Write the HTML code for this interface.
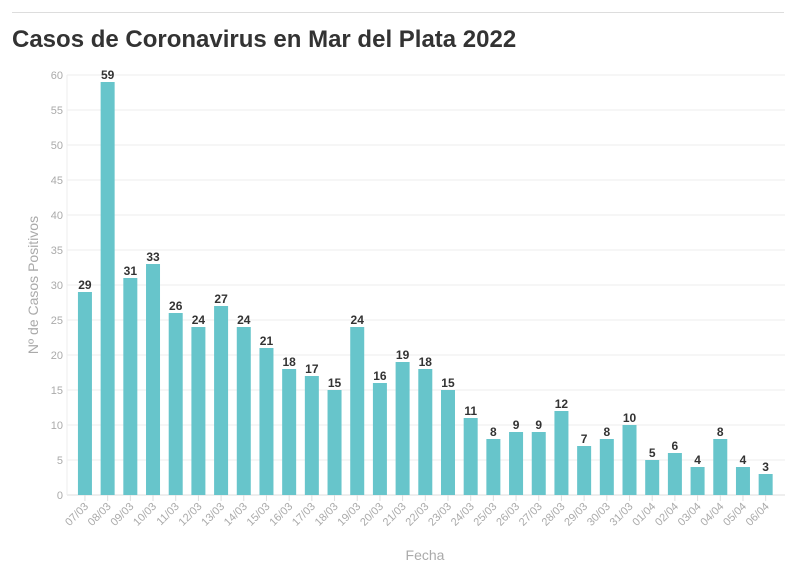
<!DOCTYPE html>
<html><head><meta charset="utf-8"><style>
body{margin:0;background:#fff;font-family:"Liberation Sans",sans-serif;}
svg text{font-family:"Liberation Sans",sans-serif;}
</style></head><body>
<svg width="796" height="575">
<line x1="12" y1="12.5" x2="784" y2="12.5" stroke="#ddd"/>
<text x="12" y="47" font-size="24" font-weight="bold" fill="#333">Casos de Coronavirus en Mar del Plata 2022</text>
<g id="grid"></g><g id="bars"></g><g id="xax"></g>
<text x="425" y="560" font-size="14" fill="#aaa" text-anchor="middle">Fecha</text>
<text transform="translate(38,285) rotate(-90)" font-size="14" fill="#aaa" text-anchor="middle">Nº de Casos Positivos</text>
</svg>
<script>
const categories=["07/03","08/03","09/03","10/03","11/03","12/03","13/03","14/03","15/03","16/03","17/03","18/03","19/03","20/03","21/03","22/03","23/03","24/03","25/03","26/03","27/03","28/03","29/03","30/03","31/03","01/04","02/04","03/04","04/04","05/04","06/04"];
const values=[29,59,31,33,26,24,27,24,21,18,17,15,24,16,19,18,15,11,8,9,9,12,7,8,10,5,6,4,8,4,3];
const yTicks=[0,5,10,15,20,25,30,35,40,45,50,55,60];
const NS="http://www.w3.org/2000/svg";
const y0=495,yTop=75,yMax=60,xL=73.6,xR=777;
const step=(xR-xL)/categories.length,bw=14;
const y=v=>y0-(v/yMax)*(y0-yTop);
const x=i=>xL+step*(i+0.5);
function mk(t,a,p){const e=document.createElementNS(NS,t);for(const k in a)e.setAttribute(k,a[k]);p.appendChild(e);return e;}
const g=document.getElementById('grid'),b=document.getElementById('bars'),xa=document.getElementById('xax');
yTicks.forEach(v=>{
 const l=mk('line',{x1:67,x2:785,y1:y(v),y2:y(v),stroke:v===0?'#ddd':'#eee'},g);
 
 
 const t=mk('text',{x:63,y:y(v)+4,'font-size':11,fill:'#aaa','text-anchor':'end'},g);t.textContent=v;
 
 
});
mk('line',{x1:67,x2:67,y1:yTop,y2:y0,stroke:'#eee'},g);
values.forEach((v,i)=>{
 const r=mk('rect',{x:x(i)-bw/2,y:y(v),width:bw,height:y0-y(v),fill:'#67c5cb'},b);
 
 
 const t=mk('text',{x:x(i),y:y(v)-3,'font-size':12,'font-weight':'bold',fill:'#333','text-anchor':'middle'},b);t.textContent=v;
 
 
 mk('line',{x1:x(i),x2:x(i),y1:y0,y2:y0+6,stroke:'#ddd'},xa);
 const c=mk('text',{x:0,y:0,'font-size':11,fill:'#aaa','text-anchor':'end',transform:`translate(${x(i)+4},${y0+12}) rotate(-45)`},xa);c.textContent=categories[i];
 
 
});
</script>
</body></html>
